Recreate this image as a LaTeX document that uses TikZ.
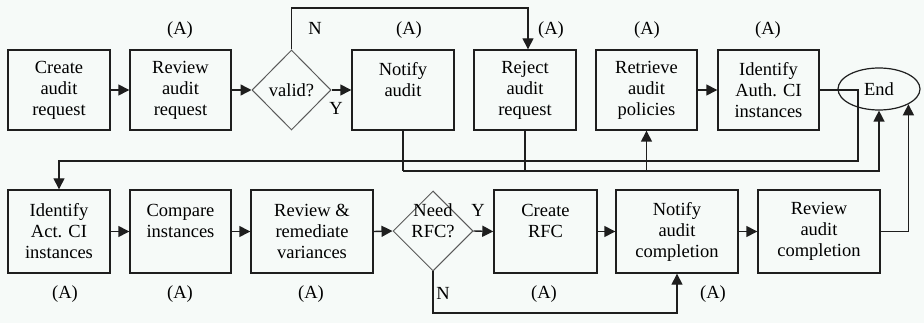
\documentclass[tikz,border=0pt]{standalone}
\usepackage{fontspec}
\setmainfont{Liberation Serif}
\usetikzlibrary{shapes.geometric,arrows.meta,calc}
\newcommand\dgfont{\fontsize{18.5}{21}\selectfont}
\definecolor{bgc}{RGB}{246,250,248}
\definecolor{lnc}{RGB}{30,30,30}
\definecolor{dic}{RGB}{90,90,90}
\begin{document}
\begin{tikzpicture}[x=1pt,y=-1pt,
  box/.style={draw=lnc, line width=1.4pt, rectangle, inner sep=0pt, align=center, font=\dgfont},
  rowa/.style={box, minimum height=80pt},
  rowb/.style={box, minimum height=83pt},
  dia/.style={draw=dic, line width=1pt, diamond, inner sep=0pt, minimum width=80pt, minimum height=80pt},
  ell/.style={draw=lnc, line width=1.2pt, ellipse, inner sep=0pt, minimum width=82pt, minimum height=42pt, font=\dgfont},
  txt/.style={inner sep=0pt, align=center, font=\dgfont},
  arr/.style={draw=lnc, line width=1.4pt, -{Triangle[length=11pt,width=11pt]}},
  ln/.style={draw=lnc, line width=1.4pt}
]
\fill[bgc] (0,0) rectangle (924,323);
\useasboundingbox (0,0) rectangle (924,323);

% row 1
\node[rowa, minimum width=102pt] (cr) at (59,90) {Create\\audit\\request};
\node[rowa, minimum width=101pt] (rv) at (180.5,90) {Review\\audit\\request};
\node[dia, minimum width=79pt] (va) at (291.5,90) {};
\node[txt] (vat) at (291.5,90) {valid?};
\node[rowa, minimum width=102pt] (no) at (403,90) {Notify\\audit\\\mbox{}};
\node[rowa, minimum width=102pt] (rj) at (525,90) {Reject\\audit\\request};
\node[rowa, minimum width=101pt] (rt) at (646.5,90) {Retrieve\\audit\\policies};
\node[rowa, minimum width=101pt] (ia) at (768.5,90) {Identify\\Auth. CI\\instances};
\node[ell] (en) at (879,89) {End};

% row 2
\node[rowb, minimum width=102pt] (ic) at (59,231.5) {Identify\\Act. CI\\instances};
\node[rowb, minimum width=101pt] (cp) at (180.5,231.5) {Compare\\instances\\\mbox{}};
\node[rowb, minimum width=122pt] (rr) at (312,231.5) {Review \&\\remediate\\variances};
\node[dia] (nr) at (433,231) {};
\node[txt] (nrt) at (433,221) {Need\\RFC?};
\node[rowb, minimum width=103pt] (cf) at (545.5,231.5) {Create\\RFC\\\mbox{}};
\node[rowb, minimum width=122pt] (nc) at (677,231.5) {Notify\\audit\\completion};
\node[rowb, minimum width=122pt] (rc) at (819,231.5) {Review\\audit\\completion};

% (A) labels
\node[txt] (a1) at (180,30) {(A)};
\node[txt] (a2) at (409,30) {(A)};
\node[txt] (a3) at (551,30) {(A)};
\node[txt] (a4) at (647,30) {(A)};
\node[txt] (a5) at (768,30) {(A)};
\node[txt] (a6) at (65,294) {(A)};
\node[txt] (a7) at (180,294) {(A)};
\node[txt] (a8) at (311,294) {(A)};
\node[txt] (a9) at (544,294) {(A)};
\node[txt] (a10) at (713,294) {(A)};

% Y / N labels
\node[txt] (ln1) at (315,28) {N};
\node[txt] (ly1) at (336,108) {Y};
\node[txt] (ly2) at (478,210) {Y};
\node[txt] (ln2) at (443,293) {N};

% row 1 connectors
\draw[arr] (cr.east) -- (rv.west);
\draw[arr] (rv.east) -- (va.west);
\draw[arr] (va.east) -- (no.west);
\coordinate (nt) at (528,8);
\draw[arr] (va.north) |- (nt) -- (nt |- rj.north);
\draw[arr] (rt.east) -- (ia.west);

% from Identify Auth to Identify Act
\coordinate (r1) at (858,161);
\draw[arr] (ia.east) -| (r1) -| (ic.north);

% bottom collector of row 1
\coordinate (b1) at (403,171);
\draw[ln] (no.south) -- (b1);
\draw[ln] (rj.south) -- (rj.south |- b1);
\draw[arr] (b1) -| (en.south);
\draw[arr] (rt.south |- b1) -- (rt.south);

% row 2 connectors
\draw[arr] (ic.east) -- (cp.west);
\draw[arr] (cp.east) -- (rr.west);
\draw[arr] (rr.east) -- (nr.west);
\draw[arr] (nr.east) -- (cf.west);
\draw[arr] (cf.east) -- (nc.west);
\draw[arr] (nc.east) -- (rc.west);
\coordinate (nb) at (433,313);
\draw[arr] (nr.south) -- (nb) -| (nc.south);
\draw[arr] (rc.east) -| (en.south east);
\end{tikzpicture}
\end{document}
